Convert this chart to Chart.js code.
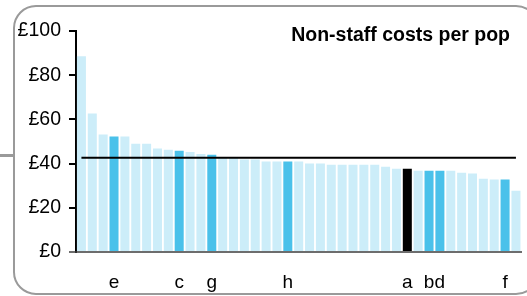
<!DOCTYPE html>
<html>
<head>
<meta charset="utf-8">
<script src="https://cdn.jsdelivr.net/npm/chart.js@4/dist/chart.umd.min.js"></script>
<style>
  html, body { margin: 0; padding: 0; background: #fff; }
  #wrap { width: 527px; height: 296px; }
</style>
</head>
<body>
<div id="wrap"><canvas id="costs-chart"></canvas></div>
<script>
// one bar per authority, sorted high to low; only the named ones get a label
const labels = ["", "", "", "e", "", "", "", "", "", "c", "", "", "g", "", "", "", "", "", "",
    "h", "", "", "", "", "", "", "", "", "", "", "a", "", "b", "d", "", "", "", "", "", "f", ""];
const costs = [88.6, 62.7, 53.2, 52.3, 52.3, 49.0, 49.0, 46.8, 46.3, 45.8, 45.3, 44.4, 44.0,
    42.6, 42.5, 41.8, 41.8, 40.9, 40.9, 40.9, 40.9, 40.0, 40.0, 39.5, 39.5, 39.5, 39.5, 39.5,
    38.6, 37.7, 37.7, 36.8, 36.8, 36.8, 36.8, 35.9, 35.5, 33.2, 32.8, 32.8, 27.7];
const average = 42.7;
const yTicks = [0, 20, 40, 60, 80, 100];

const light = '#CCEDF9';
const dark = '#4AC1EA';

const barColors = labels.map(l => l === 'a' ? '#000000' : (l !== '' ? dark : light));
const avgLine = labels.map(() => average);

// frame round the chart, drawn behind everything
const framePlugin = {
    id: 'frame',
    beforeDraw(chart) {
        const ctx = chart.ctx;
        ctx.save();
        ctx.strokeStyle = '#9a9a9a';
        ctx.lineWidth = 2;
        ctx.beginPath();
        ctx.roundRect(14, 6, 524, 288, 22);
        ctx.stroke();
        ctx.lineWidth = 3;
        ctx.beginPath();
        ctx.moveTo(0, 155.5);
        ctx.lineTo(14, 155.5);
        ctx.stroke();
        ctx.restore();
    }
};

const titlePlugin = {
    id: 'innerTitle',
    afterDraw(chart) {
        const ctx = chart.ctx;
        ctx.save();
        ctx.font = 'bold 19.5px "Liberation Sans", Arial, sans-serif';
        ctx.fillStyle = '#000';
        ctx.textAlign = 'right';
        ctx.textBaseline = 'middle';
        ctx.fillText('Non-staff costs per pop', 510, 36);
        ctx.restore();
    }
};

const costsCanvas = document.getElementById('costs-chart');
let costsChart = new Chart(costsCanvas, {
    data: {
        labels: labels,
        datasets: [{
            type: 'line',
            data: avgLine,
            borderColor: '#000',
            borderWidth: 2,
            pointRadius: 0,
            order: 0
        }, {
            type: 'bar',
            data: costs,
            backgroundColor: barColors,
            borderWidth: 0,
            categoryPercentage: 1,
            barPercentage: 0.83,
            order: 1
        }]
    },
    options: {
        responsive: true,
        maintainAspectRatio: false,
        animation: { duration: 0 },
        layout: { padding: { left: 0, right: 5, top: 31, bottom: 0 } },
        plugins: {
            legend: { display: false },
            tooltip: { enabled: false }
        },
        scales: {
            x: {
                grid: { display: false },
                border: { color: 'rgba(60,60,60,0.75)', width: 2, z: 1 },
                ticks: {
                    autoSkip: false,
                    maxRotation: 0,
                    padding: 11,
                    color: '#000',
                    font: { family: '"Liberation Sans", Arial, sans-serif', size: 19 }
                },
                afterFit(scale) { scale.height = 44; }
            },
            y: {
                min: 0,
                max: 100,
                afterBuildTicks(scale) { scale.ticks = yTicks.map(v => ({ value: v })); },
                grid: {
                    drawOnChartArea: false,
                    drawTicks: true,
                    tickLength: 7,
                    lineWidth: 2,
                    color: ctx => ctx.tick && ctx.tick.value === 0 ? 'rgba(60,60,60,0.75)' : '#000'
                },
                border: { color: '#000', width: 2 },
                ticks: {
                    padding: 8,
                    color: '#000',
                    font: { family: '"Liberation Sans", Arial, sans-serif', size: 19.5 },
                    callback: v => '£' + v
                },
                afterFit(scale) { scale.width = 76; }
            }
        }
    },
    plugins: [framePlugin, titlePlugin]
});
</script>
</body>
</html>
